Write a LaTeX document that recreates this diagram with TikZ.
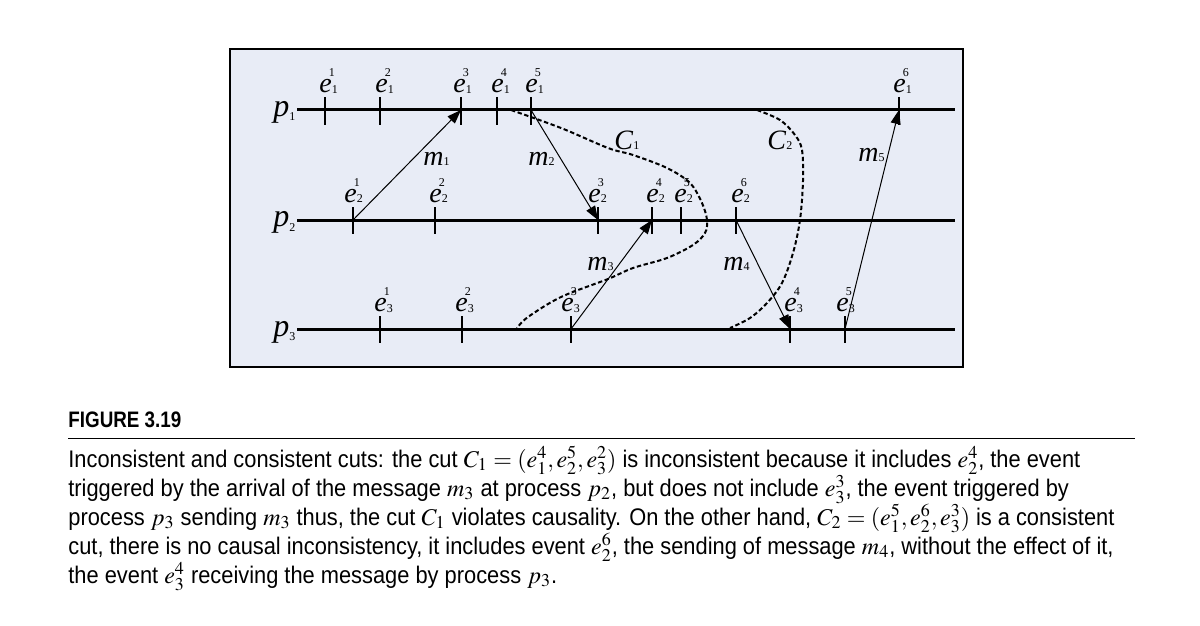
\documentclass[tikz,border=0pt]{standalone}
\usepackage{mathptmx}
\usepackage{fontspec}
\setmainfont{Liberation Serif}
\newfontfamily\capfont[FakeStretch=0.91]{Liberation Sans}
\newfontfamily\figfont[FakeStretch=0.84]{Liberation Sans}
\usetikzlibrary{arrows.meta}
\definecolor{panel}{RGB}{232,236,246}
\newcommand{\tnum}[1]{{\fontsize{6}{6}\selectfont\upshape #1}}
\newcommand{\evt}[2]{\textit{e}\makebox[0pt][l]{\hspace{-1.5pt}\raisebox{8pt}{\tnum{#2}}}\raisebox{-0.5pt}{\tnum{#1}}}
\newcommand{\lab}[3]{\textit{#1}\raisebox{#3}{\tnum{#2}}}
\begin{document}
\begin{tikzpicture}[x=0.5pt,y=-0.5pt,
  proc/.style={line width=1.5pt},
  tickmark/.style={line width=0.7pt},
  msg/.style={line width=0.5pt,-{Triangle[length=7pt,width=5pt]}},
  cutline/.style={line width=1pt,dash pattern=on 2.2pt off 1.3pt},
  evlab/.style={anchor=base west,inner sep=0pt,font=\fontsize{14}{14}\selectfont},
  biglab/.style={anchor=base west,inner sep=0pt,font=\fontsize{14}{14}\selectfont},
  plab/.style={anchor=base west,inner sep=0pt,font=\fontsize{16}{16}\selectfont},
  capline/.style={anchor=base west,inner sep=0pt,font=\capfont\fontsize{12}{14}\selectfont}]
\useasboundingbox (0,0) rectangle (1200,626);
\fill[white] (0,0) rectangle (1200,626);
\draw[fill=panel,line width=0.6pt] (230,49) rectangle (963,367);

% cuts
\draw[cutline] plot[smooth,tension=0.55] coordinates {(511,110) (561,128) (608,148) (633,155) (667,168) (690,183) (702,203) (707,220) (705,233) (693,245) (667,258) (633,268) (608,279) (561,297) (528,317) (517,328)};
\draw[cutline] plot[smooth,tension=0.55] coordinates {(757,110) (780,120) (795,135) (802,150) (803,181) (800,220) (793,253) (782,283) (767,303) (750,318) (730,328)};

% process lines
\coordinate (p1s) at (297,110); \coordinate (p1e) at (955,110);
\coordinate (p2s) at (297,220); \coordinate (p2e) at (955,220);
\coordinate (p3s) at (297,329); \coordinate (p3e) at (955,329);
\draw[proc] (p1s) -- (p1e);
\draw[proc] (p2s) -- (p2e);
\draw[proc] (p3s) -- (p3e);

% events and ticks
\foreach \n/\x in {e11/325,e12/380,e13/461,e14/497,e15/531,e16/899}{
  \coordinate (\n) at (\x,110);
  \draw[tickmark] (\n) ++(0,-13) -- ++(0,28);}
\foreach \n/\x in {e21/353,e22/435,e23/598,e24/652,e25/681,e26/736}{
  \coordinate (\n) at (\x,220);
  \draw[tickmark] (\n) ++(0,-13) -- ++(0,27);}
\foreach \n/\x in {e31/380,e32/462,e33/571,e34/790,e35/845}{
  \coordinate (\n) at (\x,329);
  \draw[tickmark] (\n) ++(0,-13) -- ++(0,27);}

% messages
\draw[msg] (e21) -- (e13);
\draw[msg] (e15) -- (e23);
\draw[msg] (e33) -- (e24);
\draw[msg] (e26) -- (e34);
\draw[msg] (e35) -- (e16);

% event labels
\foreach \n/\x/\k in {l11/325/1,l12/381/2,l13/459/3,l14/497/4,l15/531/5,l16/899/6}{
  \node[evlab] (\n) at (\x-6,93) {\evt{1}{\k}};}
\foreach \n/\x/\k in {l21/350/1,l22/435/2,l23/594/3,l24/652/4,l25/680/5,l26/737/6}{
  \node[evlab] (\n) at (\x-6,202) {\evt{2}{\k}};}
\foreach \n/\x/\k in {l31/380/1,l32/461/2,l33/567/3,l34/790/4,l35/842/5}{
  \node[evlab] (\n) at (\x-6,311) {\evt{3}{\k}};}

% process labels
\node[plab] (pl1) at (273,117) {\lab{p}{1}{-2pt}};
\node[plab] (pl2) at (273,227) {\lab{p}{2}{-2pt}};
\node[plab] (pl3) at (273,336) {\lab{p}{3}{-2pt}};

% message labels
\node[biglab] (ml1) at (423,166) {\lab{m}{1}{0pt}};
\node[biglab] (ml2) at (528,166) {\lab{m}{2}{0pt}};
\node[biglab] (ml3) at (587,270) {\lab{m}{3}{0pt}};
\node[biglab] (ml4) at (723,270) {\lab{m}{4}{0pt}};
\node[biglab] (ml5) at (858,162) {\lab{m}{5}{0pt}};

% cut labels
\node[biglab] (cl1) at (614,150) {\lab{C}{1}{0.5pt}};
\node[biglab] (cl2) at (767,150) {\lab{C}{2}{0.5pt}};

% caption
\node[capline,font=\figfont\bfseries\fontsize{11.2}{12}\selectfont] (fig) at (68,427) {FIGURE 3.19};
\coordinate (rl) at (68,438); \coordinate (rr) at (1135,438);
\draw[line width=0.5pt] (rl) -- (rr);
\node[capline] (c1) at (68,467) {Inconsistent and consistent cuts: the cut $C_1=(e_1^4,e_2^5,e_3^2)$ is inconsistent because it includes $e_2^4$, the event};
\node[capline] (c2) at (68,496) {triggered by the arrival of the message $m_3$ at process $p_2$, but does not include $e_3^3$, the event triggered by};
\node[capline] (c3) at (68,525) {\makebox[523pt][s]{process $p_3$ sending $m_3$ thus, the cut $C_1$ violates causality. On the other hand, $C_2=(e_1^5,e_2^6,e_3^3)$ is a consistent}};
\node[capline] (c4) at (68,554) {cut, there is no causal inconsistency, it includes event $e_2^6$, the sending of message $m_4$, without the effect of it,};
\node[capline] (c5) at (68,583) {the event $e_3^4$ receiving the message by process $p_3$.};
\end{tikzpicture}
\end{document}
